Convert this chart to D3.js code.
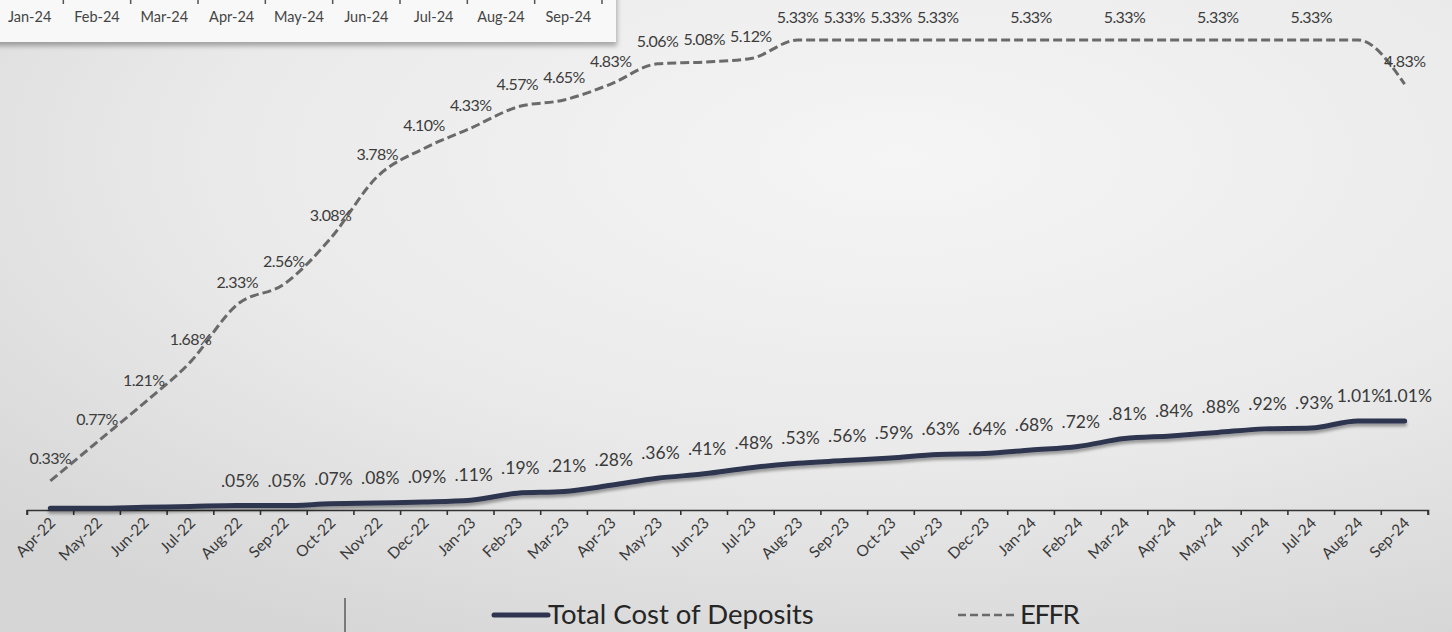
<!DOCTYPE html>
<html>
<head>
<meta charset="utf-8">
<script src="https://cdn.jsdelivr.net/npm/d3@7"></script>
<style>
  html, body { margin: 0; padding: 0; }
  body { width: 1452px; height: 632px; overflow: hidden; }
  svg { display: block; }
</style>
</head>
<body>
<svg id="chart" width="1452" height="632"></svg>
<script>
// Monthly series, Apr-22 through Sep-24
const months = ["Apr-22","May-22","Jun-22","Jul-22","Aug-22","Sep-22","Oct-22","Nov-22","Dec-22",
  "Jan-23","Feb-23","Mar-23","Apr-23","May-23","Jun-23","Jul-23","Aug-23","Sep-23","Oct-23","Nov-23","Dec-23",
  "Jan-24","Feb-24","Mar-24","Apr-24","May-24","Jun-24","Jul-24","Aug-24","Sep-24"];

// Effective federal funds rate (%)
const effr = [0.33,0.77,1.21,1.68,2.33,2.56,3.08,3.78,4.10,
  4.33,4.57,4.65,4.83,5.06,5.08,5.12,5.33,5.33,5.33,5.33,5.33,
  5.33,5.33,5.33,5.33,5.33,5.33,5.33,5.33,4.83];
// Which EFFR points carry a value label
const effrLabelShown = [1,1,1,1,1,1,1,1,1,
  1,1,1,1,1,1,1,1,1,1,1,0,
  1,0,1,0,1,0,1,0,1];

// Total cost of deposits (%)
const deposits = [0.02,0.02,0.03,0.04,0.05,0.05,0.07,0.08,0.09,
  0.11,0.19,0.21,0.28,0.36,0.41,0.48,0.53,0.56,0.59,0.63,0.64,
  0.68,0.72,0.81,0.84,0.88,0.92,0.93,1.01,1.01];
const depositLabelShown = [0,0,0,0,1,1,1,1,1,
  1,1,1,1,1,1,1,1,1,1,1,1,
  1,1,1,1,1,1,1,1,1];

// Month labels of the overlapping panel at the top left
const insetMonths = ["Jan-24","Feb-24","Mar-24","Apr-24","May-24","Jun-24","Jul-24","Aug-24","Sep-24"];

const legendItems = ["Total Cost of Deposits", "EFFR"];

const W = 1452, H = 632;
const svg = d3.select("#chart");
const defs = svg.append("defs");

// Slide background
const bg = defs.append("radialGradient").attr("id", "bg")
  .attr("cx", "0.62").attr("cy", "0.25").attr("r", "0.85");
bg.append("stop").attr("offset", "0").attr("stop-color", "#f5f5f5");
bg.append("stop").attr("offset", "0.55").attr("stop-color", "#eaeaea");
bg.append("stop").attr("offset", "1").attr("stop-color", "#d6d6d6");
svg.append("rect").attr("width", W).attr("height", H).attr("fill", "url(#bg)");

const shadow = defs.append("filter").attr("id", "lineShadow")
  .attr("x", "-5%").attr("y", "-50%").attr("width", "110%").attr("height", "200%");
shadow.append("feDropShadow").attr("dx", 0).attr("dy", 3).attr("stdDeviation", 1.8)
  .attr("flood-color", "#000").attr("flood-opacity", 0.35);

const boxShadow = defs.append("filter").attr("id", "boxShadow")
  .attr("x", "-5%").attr("y", "-20%").attr("width", "110%").attr("height", "160%");
boxShadow.append("feDropShadow").attr("dx", 1).attr("dy", 4).attr("stdDeviation", 2.5)
  .attr("flood-color", "#000").attr("flood-opacity", 0.3);

const FONT = "Lato, 'Open Sans', sans-serif";

// Scales
const x = d3.scaleBand().domain(months).range([27, 1428]).padding(0);
const cx = d => x(d) + x.bandwidth() / 2;
const y = d3.scaleLinear().domain([0, 5.33]).range([510, 40]);

// Category axis
const axis = d3.axisBottom(x).tickSize(5).tickSizeOuter(5).tickFormat(() => "");
const axisG = svg.append("g").attr("transform", "translate(0,510)").call(axis);
axisG.select(".domain").attr("stroke", "#333").attr("stroke-width", 1.6);
// ticks sit on the band boundaries
axisG.selectAll(".tick").remove();
axisG.selectAll("line.b").data(d3.range(months.length + 1)).join("line")
  .attr("class", "b")
  .attr("x1", i => 27 + i * x.bandwidth()).attr("x2", i => 27 + i * x.bandwidth())
  .attr("y1", 0).attr("y2", 5).attr("stroke", "#333").attr("stroke-width", 1.6);

svg.append("g").selectAll("text").data(months).join("text")
  .attr("transform", d => `translate(${cx(d) + 6},${524}) rotate(-45)`)
  .attr("text-anchor", "end")
  .attr("font-family", FONT).attr("font-size", 15.5)
  .attr("fill", "#3a3a3a")
  .text(d => d);

// Lines
const line = d3.line().x((d, i) => cx(months[i])).y(d => y(d)).curve(d3.curveMonotoneX);

svg.append("path").datum(effr).attr("d", line)
  .attr("fill", "none").attr("stroke", "#6a6a6a").attr("stroke-width", 3)
  .attr("stroke-dasharray", "9,4");

svg.append("path").datum(deposits).attr("d", line)
  .attr("fill", "none").attr("stroke", "#2f3550").attr("stroke-width", 5)
  .attr("stroke-linecap", "round").attr("filter", "url(#lineShadow)");

// Value labels
svg.append("g").selectAll("text").data(effr.map((v, i) => ({v, i})).filter(d => effrLabelShown[d.i]))
  .join("text")
  .attr("x", d => cx(months[d.i])).attr("y", d => y(d.v) - 17)
  .attr("text-anchor", "middle")
  .attr("font-family", FONT).attr("font-size", 16).attr("letter-spacing", -0.6)
  .attr("fill", "#3c3c3c")
  .text(d => d.v.toFixed(2) + "%");

svg.append("g").selectAll("text").data(deposits.map((v, i) => ({v, i})).filter(d => depositLabelShown[d.i]))
  .join("text")
  .attr("x", d => cx(months[d.i]) + 3).attr("y", d => y(d.v) - 19)
  .attr("text-anchor", "middle")
  .attr("font-family", FONT).attr("font-size", 17.5)
  .attr("fill", "#3a3a3a")
  .text(d => d.v.toFixed(2).replace(/^0/, "") + "%");

// Legend
const leg = svg.append("g").attr("font-family", FONT).attr("fill", "#262626");
leg.append("line").attr("x1", 494).attr("x2", 548).attr("y1", 615).attr("y2", 615)
  .attr("stroke", "#2f3550").attr("stroke-width", 5).attr("stroke-linecap", "round");
leg.append("text").attr("x", 548).attr("y", 624).attr("font-size", 27.5).text(legendItems[0]);
leg.append("line").attr("x1", 958).attr("x2", 1017).attr("y1", 615).attr("y2", 615)
  .attr("stroke", "#6a6a6a").attr("stroke-width", 2.5).attr("stroke-dasharray", "8,4");
leg.append("text").attr("x", 1020).attr("y", 624).attr("font-size", 27.5)
  .attr("letter-spacing", -1.5).text(legendItems[1]);

// Divider at the bottom of the slide
svg.append("line").attr("x1", 345).attr("x2", 345).attr("y1", 598).attr("y2", 632)
  .attr("stroke", "#7a7a7a").attr("stroke-width", 2);

// Overlapping panel at the top left
const inset = svg.append("g");
inset.append("rect").attr("x", -10).attr("y", -10).attr("width", 626).attr("height", 52)
  .attr("fill", "#f8f8f8").attr("filter", "url(#boxShadow)");
const ix = d3.scaleBand().domain(insetMonths).range([-4, 602]);
inset.selectAll("line").data(d3.range(insetMonths.length + 1)).join("line")
  .attr("x1", i => -4 + i * ix.bandwidth()).attr("x2", i => -4 + i * ix.bandwidth())
  .attr("y1", 0).attr("y2", 4).attr("stroke", "#555").attr("stroke-width", 1.5);
inset.selectAll("text").data(insetMonths).join("text")
  .attr("x", d => ix(d) + ix.bandwidth() / 2).attr("y", 22)
  .attr("text-anchor", "middle")
  .attr("font-family", FONT).attr("font-size", 14.5)
  .attr("fill", "#444")
  .text(d => d);
</script>
</body>
</html>
